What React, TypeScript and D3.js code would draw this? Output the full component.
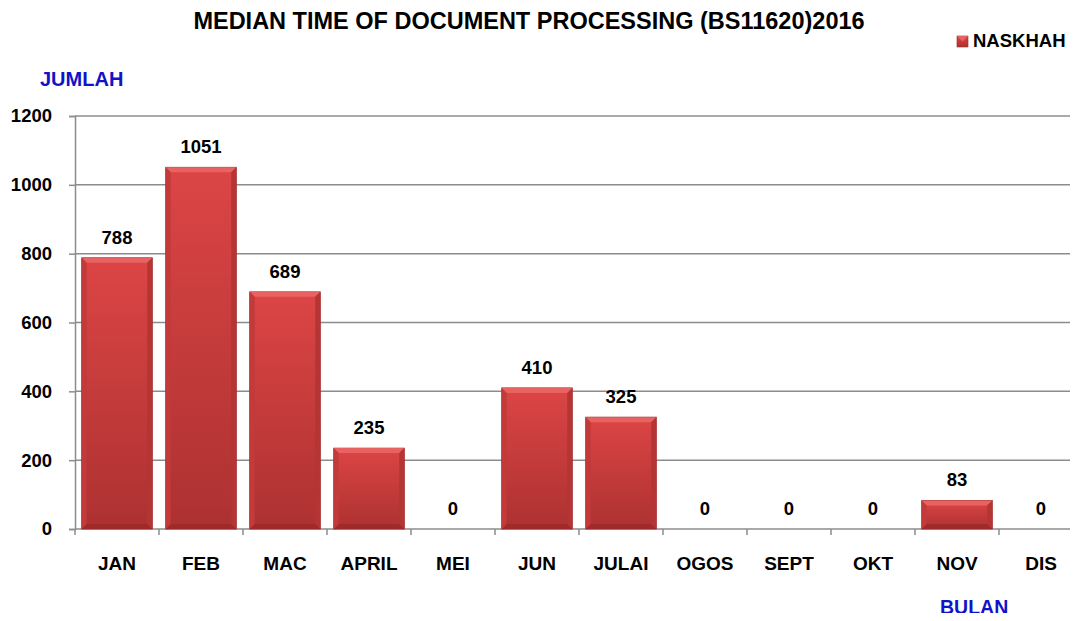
import { useRef, useEffect, FC } from 'react';
import * as d3 from 'd3';

const months = ['JAN', 'FEB', 'MAC', 'APRIL', 'MEI', 'JUN', 'JULAI', 'OGOS', 'SEPT', 'OKT', 'NOV', 'DIS'];
const naskhah = [788, 1051, 689, 235, 0, 410, 325, 0, 0, 0, 83, 0];
const yTicks = [0, 200, 400, 600, 800, 1000, 1200];

const W = 1078;
const H = 621;
const FONT = 'Liberation Sans, Arial, sans-serif';

const App: FC = () => {
  const svgRef = useRef<SVGSVGElement | null>(null);

  useEffect(() => {
    const svg = d3.select(svgRef.current);
    svg.selectAll('*').remove();

    const x = d3.scaleBand<string>().domain(months).range([75, 1083]).paddingInner(0.16).paddingOuter(0.08);
    const y = d3.scaleLinear().domain([0, 1200]).range([529, 116]);

    const defs = svg.append('defs');
    const grad = defs.append('linearGradient').attr('id', 'barGrad').attr('x1', 0).attr('y1', 0).attr('x2', 0).attr('y2', 1);
    grad.append('stop').attr('offset', '0%').attr('stop-color', '#dc4545');
    grad.append('stop').attr('offset', '100%').attr('stop-color', '#ad3131');

    // grid lines
    svg
      .append('g')
      .selectAll('line')
      .data(yTicks.filter(d => d > 0))
      .join('line')
      .attr('x1', 75)
      .attr('x2', W)
      .attr('y1', d => y(d))
      .attr('y2', d => y(d))
      .attr('stroke', '#8c8c8c')
      .attr('stroke-width', 1.5);

    // y axis
    const yAxis = d3.axisLeft(y).tickValues(yTicks).tickFormat(d3.format('d')).tickSize(6).tickPadding(17);
    const gy = svg.append('g').attr('transform', 'translate(75,0)').call(yAxis);
    gy.select('.domain').attr('stroke', '#8c8c8c').attr('stroke-width', 1.5);
    gy.selectAll('.tick line').attr('stroke', '#8c8c8c').attr('stroke-width', 1.5);
    gy.selectAll('.tick text')
      .attr('font-family', FONT)
      .attr('font-weight', 'bold')
      .attr('font-size', 18.5)
      .attr('fill', '#000');

    // x axis
    const xLine = d3.scaleLinear().domain([0, months.length]).range([75, 1083]);
    const gx = svg.append('g').attr('transform', `translate(0,${y(0)})`);
    gx.append('line').attr('x1', 75).attr('x2', W).attr('stroke', '#8c8c8c').attr('stroke-width', 1.5);
    gx.selectAll('line.tk')
      .data(d3.range(months.length + 1))
      .join('line')
      .attr('class', 'tk')
      .attr('x1', d => xLine(d))
      .attr('x2', d => xLine(d))
      .attr('y1', 0)
      .attr('y2', 6)
      .attr('stroke', '#8c8c8c')
      .attr('stroke-width', 1.5);
    gx.selectAll('text')
      .data(months)
      .join('text')
      .attr('x', d => (x(d) as number) + x.bandwidth() / 2)
      .attr('y', 41)
      .attr('text-anchor', 'middle')
      .attr('font-family', FONT)
      .attr('font-weight', 'bold')
      .attr('font-size', 19)
      .text(d => d);

    // bars
    const b = 5;
    const bars = svg
      .append('g')
      .selectAll('g')
      .data(months.map((m, i) => ({ m, v: naskhah[i] })).filter(d => d.v > 0))
      .join('g');
    bars
      .append('rect')
      .attr('x', d => x(d.m) as number)
      .attr('y', d => y(d.v))
      .attr('width', x.bandwidth())
      .attr('height', d => y(0) - y(d.v))
      .attr('fill', 'url(#barGrad)')
      .attr('stroke', '#9a2a2a')
      .attr('stroke-width', 0.8);
    // top bevel
    bars
      .append('path')
      .attr('d', d => {
        const x0 = x(d.m) as number;
        const x1 = x0 + x.bandwidth();
        const t = y(d.v);
        return `M${x0},${t}L${x1},${t}L${x1 - b},${t + b}L${x0 + b},${t + b}Z`;
      })
      .attr('fill', '#e96262');
    // bottom bevel
    bars
      .append('path')
      .attr('d', d => {
        const x0 = x(d.m) as number;
        const x1 = x0 + x.bandwidth();
        const bt = y(0);
        return `M${x0},${bt}L${x1},${bt}L${x1 - b},${bt - b}L${x0 + b},${bt - b}Z`;
      })
      .attr('fill', '#a02a2a');
    // side bevels
    bars
      .append('path')
      .attr('d', d => {
        const x0 = x(d.m) as number;
        const t = y(d.v);
        const bt = y(0);
        return `M${x0},${t}L${x0 + b},${t + b}L${x0 + b},${bt - b}L${x0},${bt}Z`;
      })
      .attr('fill', '#c23a3a');
    bars
      .append('path')
      .attr('d', d => {
        const x1 = (x(d.m) as number) + x.bandwidth();
        const t = y(d.v);
        const bt = y(0);
        return `M${x1},${t}L${x1 - b},${t + b}L${x1 - b},${bt - b}L${x1},${bt}Z`;
      })
      .attr('fill', '#b53434');

    // value labels
    svg
      .append('g')
      .selectAll('text')
      .data(months.map((m, i) => ({ m, v: naskhah[i] })))
      .join('text')
      .attr('x', d => (x(d.m) as number) + x.bandwidth() / 2)
      .attr('y', d => y(d.v) - 14)
      .attr('text-anchor', 'middle')
      .attr('font-family', FONT)
      .attr('font-weight', 'bold')
      .attr('font-size', 18.5)
      .text(d => d.v);

    // title
    svg
      .append('text')
      .attr('x', 529)
      .attr('y', 29)
      .attr('text-anchor', 'middle')
      .attr('font-family', FONT)
      .attr('font-weight', 'bold')
      .attr('font-size', 23.5)
      .text('MEDIAN TIME OF DOCUMENT PROCESSING (BS11620)2016');

    // axis titles
    svg
      .append('text')
      .attr('x', 40)
      .attr('y', 86)
      .attr('font-family', FONT)
      .attr('font-weight', 'bold')
      .attr('font-size', 20)
      .attr('fill', '#1212c8')
      .text('JUMLAH');
    svg
      .append('text')
      .attr('x', 940)
      .attr('y', 614)
      .attr('font-family', FONT)
      .attr('font-weight', 'bold')
      .attr('font-size', 19.5)
      .attr('fill', '#1212c8')
      .text('BULAN');

    // legend
    const lg = svg.append('g').attr('transform', 'translate(957,36)');
    lg.append('rect').attr('width', 11).attr('height', 11).attr('fill', 'url(#barGrad)').attr('stroke', '#9a2a2a').attr('stroke-width', 0.6);
    lg.append('path').attr('d', 'M0,0L11,0L5.5,5.5Z').attr('fill', '#e96262');
    lg.append('text')
      .attr('x', 16)
      .attr('y', 11)
      .attr('font-family', FONT)
      .attr('font-weight', 'bold')
      .attr('font-size', 18.5)
      .text('NASKHAH');
  }, []);

  return <svg ref={svgRef} width={W} height={H} style={{ display: 'block', margin: '-8px', background: '#fff' }} />;
};

export default App;
